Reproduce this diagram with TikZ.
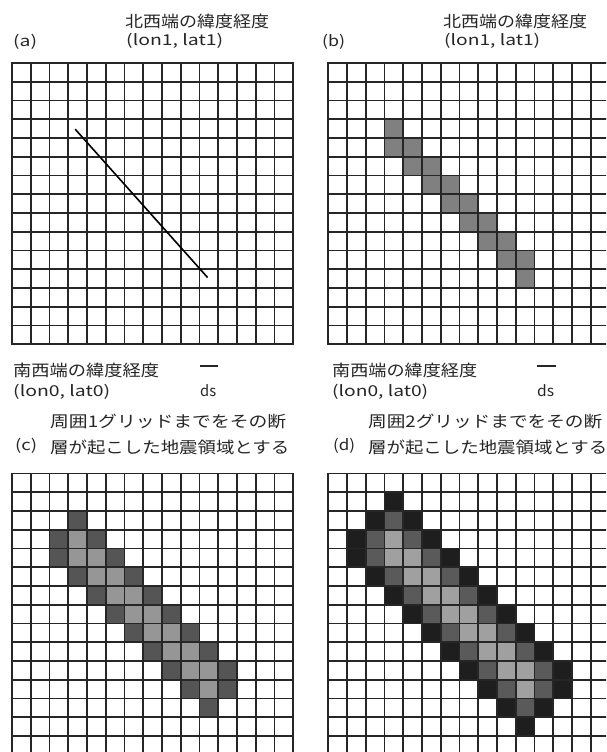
\documentclass[tikz,border=0pt]{standalone}
\usepackage{fontspec}
\usepackage{graphicx}
\newfontfamily\jp{Noto Sans CJK JP}
\newlength\fitlen
\newcommand\fitto[2]{\settowidth{\fitlen}{#2}\pgfmathsetmacro\fitsx{#1/\fitlen}\scalebox{\fitsx}[1]{#2}}
\definecolor{faultB}{HTML}{808080}
\definecolor{faultC}{HTML}{969696}
\definecolor{ringC}{HTML}{555555}
\definecolor{faultD}{HTML}{A0A0A0}
\definecolor{ringDa}{HTML}{5A5A5A}
\definecolor{ringDb}{HTML}{1E1E1E}
\def\cs{18.75}
\newcommand\gridpanel{%
  \foreach \i in {0,...,15}{%
    \draw[gl] (\i*\cs,0) -- (\i*\cs,15*\cs);
    \draw[gl] (0,\i*\cs) -- (15*\cs,\i*\cs);
  }}
\newcommand\cellfill[3]{\fill[#3] ({(#1)*\cs},{(#2)*\cs}) rectangle ({(#1+1)*\cs},{(#2+1)*\cs});}
\newcommand\diamfill[4]{%
  \foreach \dy in {-#3,...,#3}{%
    \pgfmathtruncatemacro\hw{#3-abs(\dy)}%
    \fill[#4] ({(#1-\hw)*\cs},{(#2+\dy)*\cs}) rectangle ({(#1+\hw+1)*\cs},{(#2+\dy+1)*\cs});
  }}
\newcommand\faultcells[1]{\foreach \k in {3,...,10}{\cellfill{\k}{\k}{#1}\cellfill{\k}{\k+1}{#1}}}
\newcommand\faultring[2]{\foreach \k in {3,...,10}{\diamfill{\k}{\k}{#1}{#2}\diamfill{\k}{\k+1}{#1}{#2}}}
\begin{document}
\begin{tikzpicture}[x=1pt,y=-1pt,
  gl/.style={line width=1.8pt,draw=black!85,line cap=rect},
  txt/.style={font=\jp\fontsize{16}{18}\selectfont,text=black!85,inner sep=0pt,anchor=west},
  lat/.style={txt,font=\jp\fontsize{15}{17}\selectfont},
  bar/.style={line width=1.6pt,draw=black!85},
  faultline/.style={line width=1.6pt,draw=black}]
\useasboundingbox (0,0) rectangle (606,752);
\clip (0,0) rectangle (606,752);
\fill[white] (0,0) rectangle (606,752);

% ---------- panel (a)
\begin{scope}[shift={(12,63)}]
  \gridpanel
  \coordinate (fs) at ({3.37*\cs},{3.53*\cs});
  \coordinate (fe) at ({10.43*\cs},{11.44*\cs});
  \draw[faultline] (fs) -- (fe);
\end{scope}
% ---------- panel (b)
\begin{scope}[shift={(328.3,63)}]
  \faultcells{faultB}
  \gridpanel
\end{scope}
% ---------- panel (c)
\begin{scope}[shift={(12,473.5)}]
  \faultring{1}{ringC}
  \faultcells{faultC}
  \gridpanel
\end{scope}
% ---------- panel (d)
\begin{scope}[shift={(328.3,473.5)}]
  \faultring{2}{ringDb}
  \faultring{1}{ringDa}
  \faultcells{faultD}
  \gridpanel
\end{scope}

% ---------- texts top
\node[lat] (la) at (13,42) {\fitto{24}{(a)}};
\node[txt] (nwa) at (125,21) {\fitto{144}{北西端の緯度経度}};
\node[lat] (c1a) at (126,41) {\fitto{97}{(lon1, lat1)}};
\node[lat] (lb) at (322,42) {\fitto{23}{(b)}};
\node[txt] (nwb) at (443,21) {\fitto{144}{北西端の緯度経度}};
\node[lat] (c1b) at (444,41) {\fitto{96}{(lon1, lat1)}};

% ---------- texts middle
\node[txt] (swa) at (13,370) {\fitto{146}{南西端の緯度経度}};
\node[lat] (c0a) at (13,392) {\fitto{97}{(lon0, lat0)}};
\coordinate (bla) at (200,366);
\coordinate (bra) at (218,366);
\draw[bar] (bla) -- (bra);
\node[lat] (dsa) at (200,391) {\fitto{16}{ds}};

\node[txt] (swb) at (332,370) {\fitto{145}{南西端の緯度経度}};
\node[lat] (c0b) at (332,392) {\fitto{96}{(lon0, lat0)}};
\coordinate (blb) at (537,366);
\coordinate (brb) at (556,366);
\draw[bar] (blb) -- (brb);
\node[lat] (dsb) at (537,391) {\fitto{17}{ds}};

\node[lat] (lc) at (15,446) {\fitto{22}{(c)}};
\node[txt] (c1) at (50,421) {\fitto{236}{周囲1グリッドまでをその断}};
\node[txt] (c2) at (50,447) {\fitto{239}{層が起こした地震領域とする}};
\node[lat] (ld) at (333,446) {\fitto{22}{(d)}};
\node[txt] (d1) at (368,421) {\fitto{234}{周囲2グリッドまでをその断}};
\node[txt] (d2) at (368,447) {\fitto{239}{層が起こした地震領域とする}};
\end{tikzpicture}
\end{document}
